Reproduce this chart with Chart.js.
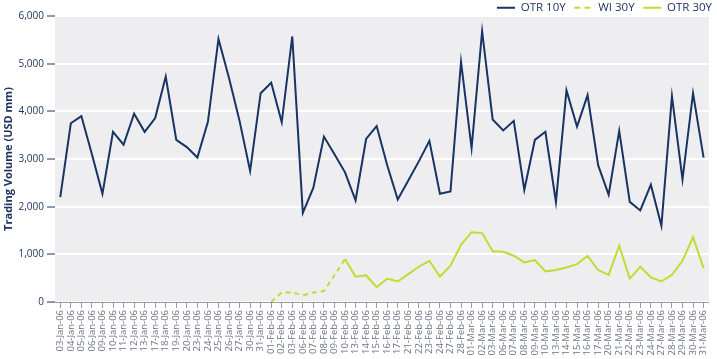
<!DOCTYPE html>
<html>
<head>
<meta charset="utf-8">
<script src="https://cdn.jsdelivr.net/npm/chart.js@4/dist/chart.umd.min.js"></script>
<style>
  body { margin: 0; background: #fff; }
  canvas { display: block; }
</style>
</head>
<body>
<canvas id="volume" width="717" height="359"></canvas>
<script>
const dates = [
  '03-Jan-06','04-Jan-06','05-Jan-06','06-Jan-06','09-Jan-06','10-Jan-06','11-Jan-06','12-Jan-06','13-Jan-06','17-Jan-06',
  '18-Jan-06','19-Jan-06','20-Jan-06','23-Jan-06','24-Jan-06','25-Jan-06','26-Jan-06','27-Jan-06','30-Jan-06','31-Jan-06',
  '01-Feb-06','02-Feb-06','03-Feb-06','06-Feb-06','07-Feb-06','08-Feb-06','09-Feb-06','10-Feb-06','13-Feb-06','14-Feb-06',
  '15-Feb-06','16-Feb-06','17-Feb-06','21-Feb-06','22-Feb-06','23-Feb-06','24-Feb-06','27-Feb-06','28-Feb-06',
  '01-Mar-06','02-Mar-06','03-Mar-06','06-Mar-06','07-Mar-06','08-Mar-06','09-Mar-06','10-Mar-06','13-Mar-06','14-Mar-06',
  '15-Mar-06','16-Mar-06','17-Mar-06','20-Mar-06','21-Mar-06','22-Mar-06','23-Mar-06','24-Mar-06','27-Mar-06','28-Mar-06',
  '29-Mar-06','30-Mar-06','31-Mar-06'
]

const otr10y = [
  2200, 3750, 3900, 3100, 2270, 3570, 3300, 3950, 3570, 3860,
  4730, 3400, 3250, 3030, 3780, 5520, 4700, 3800, 2750, 4380,
  4600, 3770, 5570, 1870, 2400, 3470, 3100, 2720, 2130, 3420,
  3690, 2870, 2150, 2550, 2950, 3380, 2270, 2320, 5040,
  3230, 5680, 3830, 3600, 3800, 2350, 3400, 3570, 2100, 4440,
  3680, 4340, 2870, 2250, 3590, 2100, 1920, 2460, 1600, 4320,
  2570, 4380, 3030
]

const wi30y = [
  null, null, null, null, null, null, null, null, null, null,
  null, null, null, null, null, null, null, null, null, null,
  0, 200, 200, 140, 200, 230, 560, 900, null, null,
  null, null, null, null, null, null, null, null, null,
  null, null, null, null, null, null, null, null, null, null,
  null, null, null, null, null, null, null, null, null, null,
  null, null, null
]

const otr30y = [
  null, null, null, null, null, null, null, null, null, null,
  null, null, null, null, null, null, null, null, null, null,
  null, null, null, null, null, null, null, 900, 530, 560,
  310, 490, 430, 585, 740, 865, 530, 760, 1200,
  1465, 1445, 1065, 1055, 970, 830, 880, 640, 670, 725,
  795, 965, 670, 570, 1180, 490, 740, 515, 430, 570,
  865, 1360, 710
]

const navy = '#173463'
const lime = '#c6d92e'
const textColor = '#1f3560'

// grey panel behind the plot
const plotBackground = {
  id: 'plotBackground',
  beforeDraw(chart) {
    const { ctx, chartArea: a } = chart
    ctx.save()
    ctx.fillStyle = '#eeeef1'
    ctx.fillRect(a.left, a.top, a.right - a.left, a.bottom - a.top)
    ctx.restore()
  },
}

new Chart(document.getElementById('volume'), {
  type: 'line',
  data: {
    labels: dates,
    datasets: [
      { label: 'OTR 10Y', data: otr10y, borderColor: navy, backgroundColor: navy, borderWidth: 2 },
      { label: 'WI 30Y', data: wi30y, borderColor: lime, backgroundColor: lime, borderWidth: 2, borderDash: [5, 4] },
      { label: 'OTR 30Y', data: otr30y, borderColor: lime, backgroundColor: lime, borderWidth: 2 },
    ],
  },
  options: {
    responsive: false,
    animation: false,
    pointRadius: 0,
    tension: 0,
    spanGaps: false,
    layout: { padding: { top: -1, right: 2, left: 0, bottom: 0 } },
    font: { family: '"Open Sans", sans-serif' },
    plugins: {
      legend: {
        position: 'top',
        align: 'end',
        maxHeight: 17,
        labels: {
          boxWidth: 18,
          boxHeight: 0,
          padding: 3,
          color: textColor,
          font: { size: 11.5, family: '"Open Sans", sans-serif' },
          // a bit more room between the entries, and a dash that reads as "- -"
          generateLabels(chart) {
            const items = Chart.defaults.plugins.legend.labels.generateLabels(chart)
            items.forEach((it, i) => {
              if (i < items.length - 1) it.text += '\u2002'
              if (it.lineDash && it.lineDash.length) it.lineDash = [6, 4]
            })
            return items
          },
        },
      },
      tooltip: { enabled: false },
    },
    scales: {
      x: {
        offset: true,
        grid: { drawOnChartArea: false, tickColor: '#9a9aa0', tickLength: 6, offset: false },
        border: { color: '#9a9aa0' },
        ticks: {
          autoSkip: false,
          minRotation: 90,
          maxRotation: 90,
          padding: 2,
          color: '#6c7285',
          font: { size: 9.5, family: '"Open Sans", sans-serif' },
        },
        afterFit(scale) { scale.height = 57 },
      },
      y: {
        min: 0,
        max: 6000,
        ticks: {
          stepSize: 1000,
          padding: 3,
          color: textColor,
          font: { size: 10, family: '"Open Sans", sans-serif' },
          callback: (v) => v.toLocaleString('en-US'),
        },
        grid: { color: '#ffffff', lineWidth: 2, tickColor: textColor, tickLength: 8, tickWidth: 1 },
        border: { display: false },
        title: {
          display: true,
          text: 'Trading Volume (USD mm)',
          color: textColor,
          padding: 2,
          font: { size: 11, weight: 'bold', family: '"Open Sans", sans-serif' },
        },
        afterFit(scale) { scale.width = 55 },
      },
    },
  },
  plugins: [plotBackground],
})
</script>
</body>
</html>
